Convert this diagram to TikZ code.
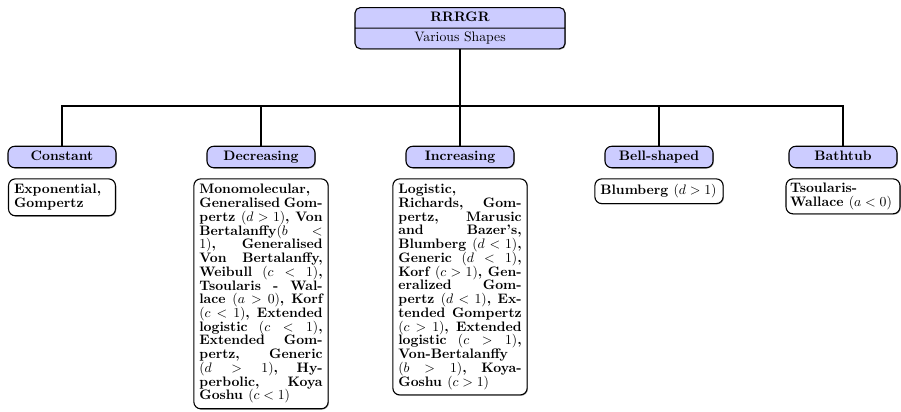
\documentclass[tikz,border=0pt]{standalone}
\usepackage{tikz}
\usetikzlibrary{positioning, shapes.multipart, shadows}
\definecolor{HeadFill}{HTML}{CCCCFF}
\tikzset{
  shade/.style={drop shadow={shadow xshift=0.6pt, shadow yshift=-0.6pt, fill=black, opacity=0.35}},
  topbox/.style={rectangle split, rectangle split parts=2, draw, line width=0.8pt,
    rounded corners=4pt, fill=HeadFill, minimum width=153pt, align=center,
    inner ysep=2.6pt, shade},
  headbox/.style={draw, line width=0.8pt, rounded corners=5pt, fill=HeadFill,
    minimum width=78.7pt, minimum height=14.6pt, text height=7pt, text depth=2pt,
    font=\bfseries, shade},
  leafbox/.style={draw, line width=0.8pt, rounded corners=5pt, fill=white,
    align=justify, inner sep=4pt, font=\fontsize{10}{10}\selectfont\bfseries, shade},
  link/.style={line width=0.9pt},
}
\newcommand{\partstrut}{\rule[-2pt]{0pt}{9pt}}

\begin{document}
\begin{tikzpicture}[x=0.7283pt, y=-0.7283pt]
    \useasboundingbox (0,0) rectangle (901,412);
    % root
    \node[topbox, anchor=north] (root) at (460,7)
      {\partstrut\textbf{RRRGR}\nodepart{two}\partstrut Various Shapes};
    \coordinate (bus) at (460,106);
    % shape classes
    \node[headbox] (const) at (62,157) {Constant};
    \node[headbox] (dec) at (261,157) {Decreasing};
    \node[headbox] (inc) at (460,157) {Increasing};
    \node[headbox] (bell) at (659,157) {Bell-shaped};
    \node[headbox] (bath) at (843,157) {Bathtub};
    % models
    \node[leafbox, text width=69.9pt, below=7.3pt of const] (constm)
      {Exponential, Gompertz};
    \node[leafbox, text width=89.8pt, below=7.3pt of dec] (decm)
      {Monomolecular, Generalised Gompertz $(d>1)$, Von Bertalanffy$(b<$\linebreak$1)$,
       Generalised Von Bertalanffy, Weibull $(c<1)$, Tsoularis - Wallace $(a>0)$,
       Korf $(c<1)$, Extended logistic $(c<1)$, Extended Gompertz, Generic $(d>1)$,
       Hyperbolic, Koya Goshu $(c<1)$};
    \node[leafbox, text width=89.8pt, below=7.3pt of inc] (incm)
      {Logistic, Richards, Gompertz, Marusic and Bazer's, Blumberg $(d<1)$,
       Generic $(d<1)$, Korf $(c>1)$, Generalized Gompertz $(d<1)$, Extended
       Gompertz $(c>1)$, Extended logistic $(c>1)$, Von-Bertalanffy $(b>1)$,
       Koya-Goshu $(c>1)$};
    \node[leafbox, text width=85.4pt, below=7.3pt of bell] (bellm)
      {Blumberg $(d>1)$};
    \node[leafbox, inner sep=3pt, text width=77pt, below=7.3pt of bath] (bathm)
      {Tsoularis-Wallace $(a<0)$};
    % tree lines
    \draw[link] (root) -- (bus);
    \foreach \n in {const, dec, inc, bell, bath}
      \draw[link] (bus) -| (\n);
\end{tikzpicture}
\end{document}
